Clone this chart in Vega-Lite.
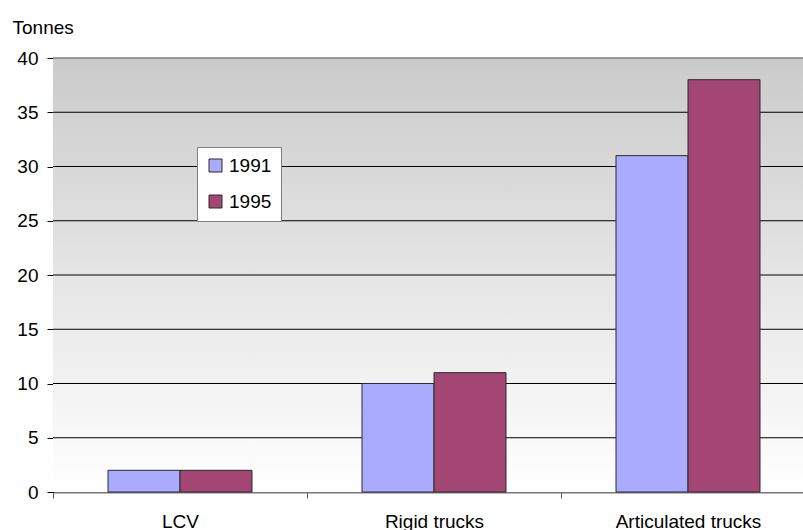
{
  "$schema": "https://vega.github.io/schema/vega-lite/v6.json",
  "width": 762,
  "height": 434,
  "autosize": {"type": "none"},
  "padding": {"left": 53, "top": 58, "right": 0, "bottom": 38},
  "background": "white",
  "config": {
    "view": {"stroke": null},
    "font": "Liberation Sans",
    "axis": {"labelFont": "Liberation Sans", "titleFont": "Liberation Sans", "labelColor": "black", "titleColor": "black"}
  },
  "layer": [
    {
      "data": {"values": [{"a": 1}]},
      "mark": {
        "type": "rect",
        "color": {
          "gradient": "linear",
          "x1": 0, "y1": 0, "x2": 0, "y2": 1,
          "stops": [
            {"offset": 0, "color": "#cbcbcb"},
            {"offset": 1, "color": "#ffffff"}
          ]
        }
      },
      "encoding": {}
    },
    {
      "data": {"values": [{"g": 5}, {"g": 10}, {"g": 15}, {"g": 20}, {"g": 25}, {"g": 30}, {"g": 35}]},
      "mark": {"type": "rule", "color": "#000000", "strokeWidth": 1},
      "encoding": {"y": {"field": "g", "type": "quantitative"}}
    },
    {
      "data": {"values": [{"g": 40}]},
      "mark": {"type": "rule", "color": "#808080", "strokeWidth": 1.5},
      "encoding": {"y": {"field": "g", "type": "quantitative"}}
    },
    {
      "data": {
        "values": [
          {"vehicle": "LCV", "year": "1991", "tonnes": 2},
          {"vehicle": "LCV", "year": "1995", "tonnes": 2},
          {"vehicle": "Rigid trucks", "year": "1991", "tonnes": 10},
          {"vehicle": "Rigid trucks", "year": "1995", "tonnes": 11},
          {"vehicle": "Articulated trucks", "year": "1991", "tonnes": 31},
          {"vehicle": "Articulated trucks", "year": "1995", "tonnes": 38}
        ]
      },
      "mark": {"type": "bar", "stroke": "#2a2a2a", "strokeWidth": 1},
      "encoding": {
        "x": {
          "field": "vehicle",
          "type": "nominal",
          "sort": ["LCV", "Rigid trucks", "Articulated trucks"],
          "scale": {"paddingInner": 0, "paddingOuter": 0},
          "axis": {
            "title": null,
            "labelAngle": 0,
            "labelFontSize": 19,
            "labelPadding": 14,
            "tickBand": "extent",
            "tickSize": 6,
            "tickColor": "#555555",
            "domainColor": "#777777",
            "domainWidth": 2,
            "grid": false
          }
        },
        "xOffset": {
          "field": "year",
          "type": "nominal",
          "scale": {"paddingInner": 0, "paddingOuter": 0.764}
        },
        "y": {
          "field": "tonnes",
          "type": "quantitative",
          "scale": {"domain": [0, 40], "nice": false},
          "axis": {
            "values": [0, 5, 10, 15, 20, 25, 30, 35, 40],
            "labelFontSize": 19,
            "labelPadding": 9,
            "tickSize": 6,
            "tickColor": "black",
            "domainColor": "black",
            "grid": false,
            "title": "Tonnes",
            "titleAngle": 0,
            "titleAlign": "left",
            "titleBaseline": "alphabetic",
            "titleFontSize": 19,
            "titleFontWeight": "normal",
            "titleX": -41,
            "titleY": -25
          }
        },
        "color": {
          "field": "year",
          "type": "nominal",
          "scale": {"domain": ["1991", "1995"], "range": ["#aaaaff", "#a34673"]},
          "legend": {
            "title": null,
            "orient": "none",
            "legendX": 144,
            "legendY": 89,
            "fillColor": "white",
            "strokeColor": "#808080",
            "padding": 9,
            "symbolType": "square",
            "symbolSize": 169,
            "symbolStrokeColor": "#2a2a2a",
            "symbolStrokeWidth": 1,
            "labelFontSize": 19,
            "labelOffset": 4,
            "rowPadding": 16
          }
        }
      }
    }
  ]
}
